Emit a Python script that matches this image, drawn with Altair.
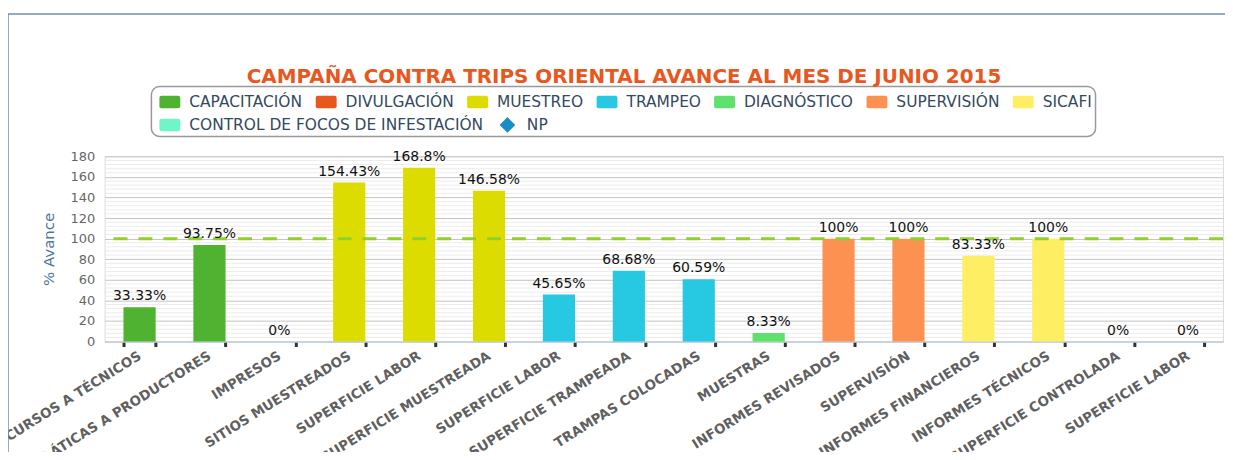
import json
import altair as alt
import pandas as pd

# ---- data ----
categorias = [
    "CURSOS A TÉCNICOS", "PLÁTICAS A PRODUCTORES", "IMPRESOS", "SITIOS MUESTREADOS",
    "SUPERFICIE LABOR", "SUPERFICIE MUESTREADA", "SUPERFICIE LABOR", "SUPERFICIE TRAMPEADA",
    "TRAMPAS COLOCADAS", "MUESTRAS", "INFORMES REVISADOS", "SUPERVISIÓN",
    "INFORMES FINANCIEROS", "INFORMES TÉCNICOS", "SUPERFICIE CONTROLADA", "SUPERFICIE LABOR",
]
valores = [33.33, 93.75, 0, 154.43, 168.8, 146.58, 45.65, 68.68, 60.59, 8.33,
           100, 100, 83.33, 100, 0, 0]
series = [
    "CAPACITACIÓN", "CAPACITACIÓN", "DIVULGACIÓN", "MUESTREO", "MUESTREO", "MUESTREO",
    "TRAMPEO", "TRAMPEO", "TRAMPEO", "DIAGNÓSTICO", "SUPERVISIÓN", "SUPERVISIÓN",
    "SICAFI", "SICAFI", "CONTROL DE FOCOS DE INFESTACIÓN", "CONTROL DE FOCOS DE INFESTACIÓN",
]
leyenda_1 = ["CAPACITACIÓN", "DIVULGACIÓN", "MUESTREO", "TRAMPEO", "DIAGNÓSTICO",
             "SUPERVISIÓN", "SICAFI"]
colores_1 = ["#4fb230", "#e8581e", "#dcdc00", "#26c8e2", "#5fe26b", "#fd9152", "#fdee63"]
leyenda_2 = ["CONTROL DE FOCOS DE INFESTACIÓN", "NP"]
colores_2 = ["#70f5c6", "#1a8cc8"]
META = 100
y_major = list(range(0, 181, 20))
y_minor = [v for v in range(0, 181, 4) if v % 20 != 0]

df = pd.DataFrame({
    "idx": list(range(len(categorias))),
    "valor": valores,
    "serie": series,
    "etiqueta": [f"{v:g}%" for v in valores],
})
df_minor = pd.DataFrame({"valor": y_minor})

FONT = "DejaVu Sans"
rect_path = ("M-0.8,-0.6 L0.8,-0.6 Q1,-0.6 1,-0.4 L1,0.4 Q1,0.6 0.8,0.6 "
             "L-0.8,0.6 Q-1,0.6 -1,0.4 L-1,-0.4 Q-1,-0.6 -0.8,-0.6 Z")
diamond_path = "M0,-0.75 L0.75,0 L0,0.75 L-0.75,0 Z"

label_expr = json.dumps(categorias, ensure_ascii=False) + "[datum.value]"

legend_common = dict(
    title=None, orient="none", direction="horizontal",
    labelFont=FONT, labelFontSize=15.5, labelColor="#34495e",
    columnPadding=13, symbolSize=440, symbolStrokeWidth=0,
    labelOffset=9, labelLimit=500, padding=0,
)
legend_1 = alt.Legend(legendX=55, legendY=-65, symbolType=rect_path, **legend_common)
legend_2 = alt.Legend(legendX=55, legendY=-42, **legend_common)

x_axis = alt.Axis(
    labelExpr=label_expr, labelAngle=-32, labelAlign="right", labelBaseline="middle",
    labelFont=FONT, labelFontSize=13.5, labelFontWeight="bold", labelColor="#606060",
    labelPadding=8, labelLimit=400, tickBand="extent", tickColor="#333333",
    tickWidth=3, tickSize=5, domainColor="#c0d0e0", domainWidth=1.5,
)
x = alt.X("idx:O", title=None, scale=alt.Scale(paddingInner=0.54), axis=x_axis)

y_axis = alt.Axis(
    values=y_major, tickCount=50, labelOverlap=False,
    labelFont=FONT, labelFontSize=13, labelColor="#666666", labelPadding=10,
    ticks=False, domain=False, gridColor="#c4c4c4",
    titleFont=FONT, titleFontSize=15, titleFontWeight="normal", titleColor="#4d759e",
    titlePadding=14,
)
y_scale = alt.Scale(domain=[0, 180], nice=False)
y = alt.Y("valor:Q", title="% Avance", scale=y_scale, axis=y_axis)

base = alt.Chart(df)

minor_grid = alt.Chart(df_minor).mark_rule(color="#ececec", strokeWidth=1).encode(y=y)

bars = base.transform_filter("datum.valor > 0").mark_bar().encode(
    x=x, y=y,
    color=alt.Color("serie:N", scale=alt.Scale(domain=leyenda_1, range=colores_1),
                    legend=legend_1),
)

legend_pts = base.transform_filter("datum.valor < -1").mark_point(
    filled=True, opacity=1
).encode(
    x=x, y=y,
    color=alt.Color("serie:N", scale=alt.Scale(domain=leyenda_2, range=colores_2),
                    legend=legend_2),
    shape=alt.Shape("serie:N", scale=alt.Scale(domain=leyenda_2,
                                               range=[rect_path, diamond_path]),
                    legend=legend_2),
)

labels = base.mark_text(
    baseline="bottom", dy=-4, font=FONT, fontSize=14, color="#111111"
).encode(x=x, y=y, text="etiqueta:N")

meta = alt.Chart().mark_rule(
    color="#8fd12a", strokeDash=[14, 11], strokeWidth=3
).encode(y=alt.datum(META))

legend_box = alt.Chart().mark_rect(
    fill="white", stroke="#999999", strokeWidth=1.5, cornerRadius=8
).encode(x=alt.value(47), x2=alt.value(995), y=alt.value(-70), y2=alt.value(-20))

frame_left = alt.Chart().mark_rule(color="#6f8fb0", strokeWidth=1.5).encode(
    x=alt.value(-97), y=alt.value(-143), y2=alt.value(310))
frame_top = alt.Chart().mark_rule(color="#6f8fb0", strokeWidth=1.5).encode(
    x=alt.value(-97), x2=alt.value(1130), y=alt.value(-143))

chart = alt.layer(
    minor_grid, bars, legend_pts, meta, labels, legend_box, frame_left, frame_top
).resolve_scale(color="independent", shape="independent").properties(
    width=1123, height=186,
    title=alt.TitleParams(
        "CAMPAÑA CONTRA TRIPS ORIENTAL AVANCE AL MES DE JUNIO 2015",
        font=FONT, fontSize=20, fontWeight="bold", color="#e8581e",
        anchor="middle", frame="group", dx=-40, offset=-74,
    ),
    autosize=alt.AutoSizeParams(type="none"),
    padding={"left": 97, "top": 148, "right": 2, "bottom": 110},
).configure_view(stroke="#c8c8c8").configure(background="white")

chart.save("out.html", embed_options={"renderer": "svg", "actions": False})
